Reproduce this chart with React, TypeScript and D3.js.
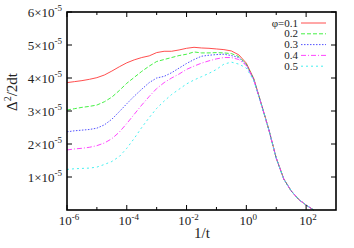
import React from 'react';
import * as d3 from 'd3';

// 1/t values (quarter-decade grid)
const invT = [
  1e-6, 1.778e-6, 3.162e-6, 5.623e-6, 1e-5, 1.778e-5, 3.162e-5, 5.623e-5,
  1e-4, 1.778e-4, 3.162e-4, 5.623e-4, 1e-3, 1.778e-3, 3.162e-3, 5.623e-3,
  1e-2, 1.778e-2, 3.162e-2, 5.623e-2, 1e-1, 0.1778, 0.3162, 0.5623,
  1, 1.778, 3.162, 5.623, 10, 17.78, 31.62, 56.23, 100, 177.8,
];

// Δ²/2dt in units of 1e-5
const phi01 = [3.86, 3.89, 3.92, 3.96, 4.01, 4.09, 4.21, 4.34, 4.46, 4.55, 4.62, 4.67, 4.77, 4.81, 4.81, 4.85, 4.90, 4.93, 4.91, 4.90, 4.88, 4.86, 4.82, 4.70, 4.45, 3.98, 3.22, 2.45, 1.58, 0.95, 0.58, 0.32, 0.15, 0.0];
const phi02 = [3.03, 3.07, 3.11, 3.14, 3.18, 3.28, 3.42, 3.62, 3.84, 4.02, 4.20, 4.36, 4.50, 4.56, 4.62, 4.68, 4.72, 4.79, 4.76, 4.76, 4.77, 4.76, 4.74, 4.65, 4.42, 3.96, 3.21, 2.44, 1.57, 0.94, 0.58, 0.32, 0.15, 0.0];
const phi03 = [2.37, 2.40, 2.42, 2.44, 2.48, 2.58, 2.75, 2.98, 3.22, 3.45, 3.66, 3.86, 4.00, 4.05, 4.16, 4.30, 4.44, 4.56, 4.66, 4.69, 4.71, 4.72, 4.68, 4.62, 4.40, 3.95, 3.21, 2.44, 1.57, 0.94, 0.58, 0.32, 0.15, 0.0];
const phi04 = [1.82, 1.85, 1.87, 1.90, 1.95, 2.03, 2.16, 2.36, 2.62, 2.90, 3.18, 3.44, 3.68, 3.86, 4.00, 4.12, 4.26, 4.36, 4.45, 4.52, 4.58, 4.62, 4.62, 4.56, 4.38, 3.94, 3.20, 2.44, 1.57, 0.94, 0.58, 0.32, 0.15, 0.0];
const phi05 = [1.23, 1.25, 1.26, 1.27, 1.30, 1.38, 1.47, 1.62, 1.87, 2.17, 2.50, 2.80, 3.08, 3.30, 3.50, 3.66, 3.82, 3.94, 4.04, 4.14, 4.26, 4.42, 4.48, 4.42, 4.30, 3.92, 3.20, 2.44, 1.57, 0.94, 0.58, 0.32, 0.15, 0.0];

const seriesLabels = ['φ=0.1', '0.2', '0.3', '0.4', '0.5'];
const seriesValues = [phi01, phi02, phi03, phi04, phi05];
const colors = ['#ff3a3a', '#30ee30', '#4040ff', '#ff30ff', '#30eeee'];
const dashes = ['none', '4,2', '1.5,1.5', '5,2,1,2', '2,3'];

const xTicks = [1e-6, 1e-5, 1e-4, 1e-3, 1e-2, 1e-1, 1, 10, 100];
const xLabelExps = [-6, -4, -2, 0, 2];
const yTicks = [1, 2, 3, 4, 5, 6];

const W = 354, H = 248;
const L = 67, R = 336, T = 12, B = 210;
const font = "'Liberation Serif', 'DejaVu Serif', serif";
const txt: React.CSSProperties = { fontFamily: font };

export default function App() {
  const x = d3.scaleLog().domain([1e-6, 1e3]).range([L, R]);
  const y = d3.scaleLinear().domain([0, 6]).range([B, T]);
  const line = d3.line<number>().x((_, i) => x(invT[i])).y(d => y(d));

  return (
    <svg width={W} height={H} style={{ position: 'absolute', left: 0, top: 0 }}>
      <rect width={W} height={H} fill="#fff" />
      {seriesValues.map((vals, k) => (
        <path key={k} d={line(vals) || ''} fill="none" stroke={colors[k]}
          strokeWidth={0.9} strokeDasharray={dashes[k]} />
      ))}
      {/* ticks */}
      {xTicks.map((t, i) => {
        const major = xLabelExps.includes(Math.round(Math.log10(t)));
        const len = major ? 5 : 3;
        return (
          <g key={i} stroke="#000" strokeWidth={1}>
            <line x1={x(t)} x2={x(t)} y1={B} y2={B - len} />
            <line x1={x(t)} x2={x(t)} y1={T} y2={T + len} />
          </g>
        );
      })}
      {yTicks.map((t, i) => (
        <g key={i} stroke="#000" strokeWidth={1}>
          <line x1={L} x2={L + 5} y1={y(t)} y2={y(t)} />
          <line x1={R} x2={R - 5} y1={y(t)} y2={y(t)} />
        </g>
      ))}
      <rect x={L} y={T} width={R - L} height={B - T} fill="none" stroke="#000" strokeWidth={1.6} />
      {/* y tick labels */}
      {yTicks.map((t, i) => (
        <text key={i} x={62} y={y(t) + 4.5} textAnchor="end" fontSize={13} fill="#222" style={txt}>
          {t}×10<tspan dy={-5.5} fontSize={9}>-5</tspan>
        </text>
      ))}
      {/* x tick labels */}
      {xLabelExps.map((e, i) => (
        <text key={i} x={x(Math.pow(10, e)) + 2} y={225} textAnchor="middle" fontSize={13} fill="#222" style={txt}>
          10<tspan dy={-5.5} fontSize={9}>{e}</tspan>
        </text>
      ))}
      <text x={202} y={238} textAnchor="middle" fontSize={15} fill="#222" style={txt}>1/t</text>
      <text transform="translate(17,92) rotate(-90)" textAnchor="middle" fontSize={15} fill="#222" style={txt}>
        Δ<tspan dy={-6} fontSize={10}>2</tspan><tspan dy={6}>/2dt</tspan>
      </text>
      {/* legend */}
      {seriesLabels.map((s, k) => {
        const ly = 23 + k * 10.8;
        return (
          <g key={k}>
            <text x={298} y={ly + 3.5} textAnchor="end" fontSize={11} fill="#222" style={txt}>{s}</text>
            <line x1={301} x2={326} y1={ly} y2={ly} stroke={colors[k]} strokeWidth={0.9} strokeDasharray={dashes[k]} />
          </g>
        );
      })}
    </svg>
  );
}
